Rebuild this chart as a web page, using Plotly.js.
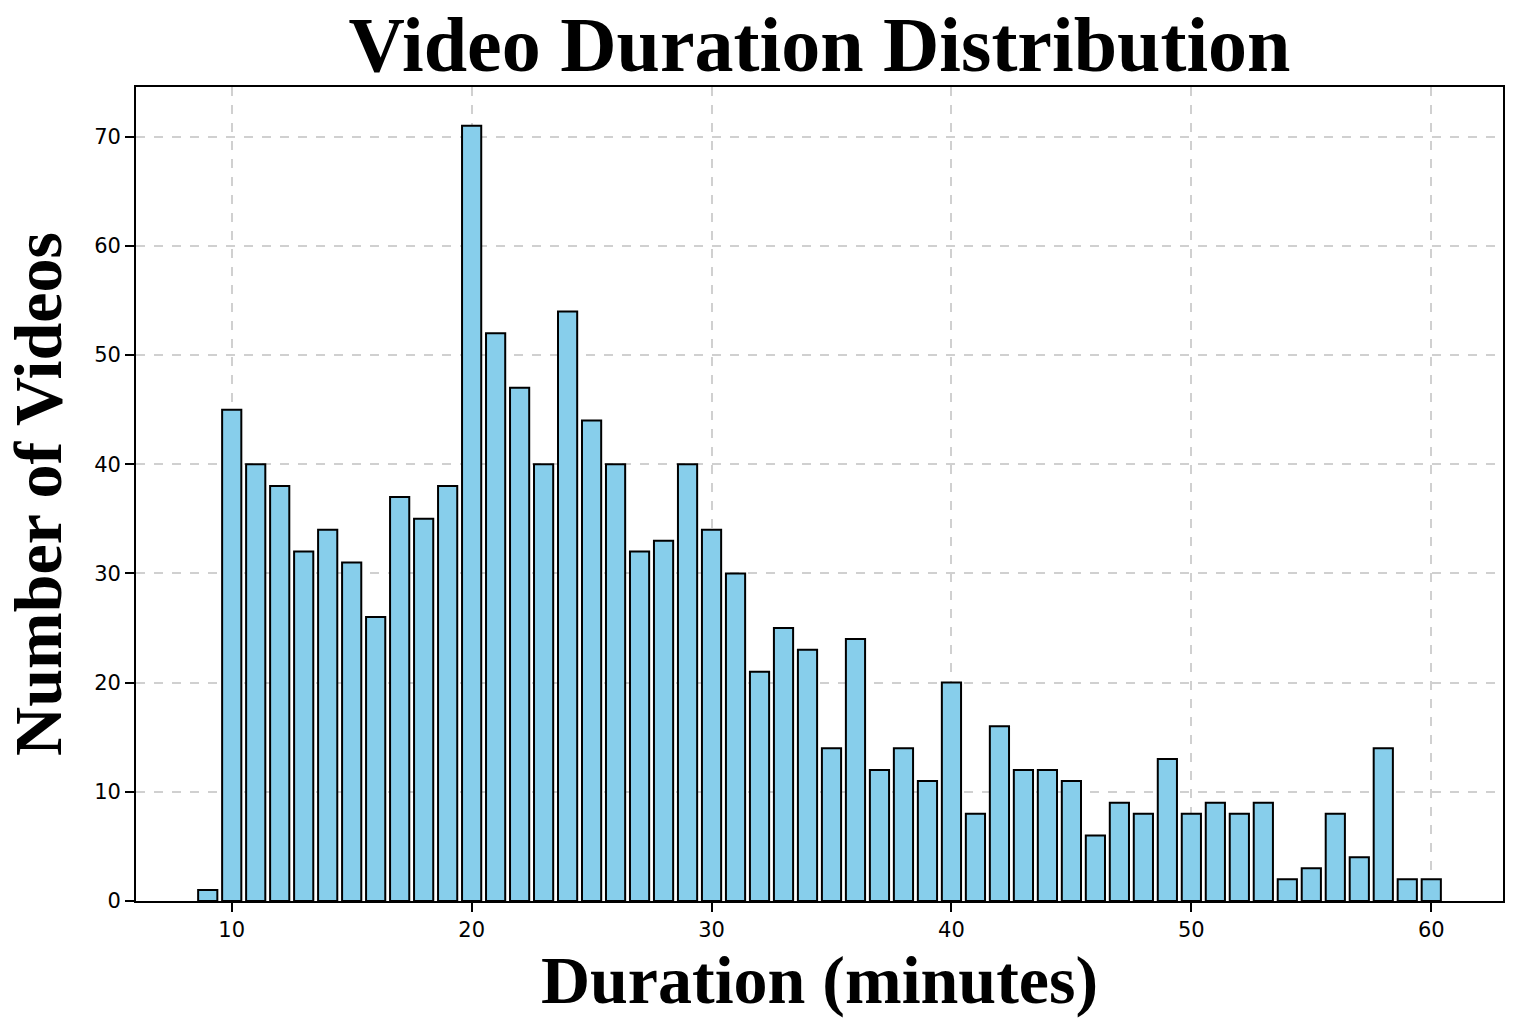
<!DOCTYPE html>
<html>
<head>
<meta charset="utf-8">
<script src="https://cdn.plot.ly/plotly-3.0.1.min.js"></script>
<style>
  html, body { margin: 0; padding: 0; background: #fff; }
  #chart { width: 1521px; height: 1030px; }
</style>
</head>
<body>
<div id="chart"></div>
<script>
// duration in minutes and how many videos have it
var durations = [9, 10, 11, 12, 13, 14, 15, 16, 17, 18, 19, 20, 21, 22, 23, 24, 25, 26, 27, 28,
  29, 30, 31, 32, 33, 34, 35, 36, 37, 38, 39, 40, 41, 42, 43, 44, 45, 46, 47, 48,
  49, 50, 51, 52, 53, 54, 55, 56, 57, 58, 59, 60]
var counts = [1, 45, 40, 38, 32, 34, 31, 26, 37, 35, 38, 71, 52, 47, 40, 54, 44, 40, 32, 33,
  40, 34, 30, 21, 25, 23, 14, 24, 12, 14, 11, 20, 8, 16, 12, 12, 11, 6, 9, 8,
  13, 8, 9, 8, 9, 2, 3, 8, 4, 14, 2, 2]
var xTicks = [10, 20, 30, 40, 50, 60]
var yTicks = [0, 10, 20, 30, 40, 50, 60, 70]

var serif = '"Liberation Serif", "Times New Roman", serif'
var sans = '"DejaVu Sans", sans-serif'

var trace = {
  x: durations,
  y: counts,
  type: 'bar',
  width: 0.8,
  marker: {
    color: '#87CEEB',
    line: { color: '#000', width: 2 }
  }
}

var axisCommon = {
  showline: true,
  mirror: true,
  linecolor: '#000',
  linewidth: 1.8,
  ticks: 'outside',
  ticklen: 9,
  tickwidth: 1.8,
  tickcolor: '#000',
  showgrid: true,
  gridcolor: '#d0d0d0',
  griddash: 'dash',
  gridwidth: 1.5,
  zeroline: false,
  tickfont: { family: sans, size: 21, color: '#000' }
}

var layout = {
  width: 1521,
  height: 1030,
  margin: { t: 87, r: 18, b: 129, l: 136 },
  paper_bgcolor: '#fff',
  plot_bgcolor: '#fff',
  showlegend: false,
  title: {
    text: '<b>Video Duration Distribution</b>',
    font: { family: serif, size: 78, color: '#000' },
    xref: 'paper',
    x: 0.5,
    xanchor: 'center',
    y: 0.958,
    yanchor: 'middle'
  },
  xaxis: Object.assign({}, axisCommon, {
    range: [6.01, 62.99],
    tickvals: xTicks,
    title: {
      text: '<b>Duration (minutes)</b>',
      font: { family: serif, size: 68, color: '#000' },
      standoff: 5
    }
  }),
  yaxis: Object.assign({}, axisCommon, {
    range: [0, 74.55],
    tickvals: yTicks,
    title: {
      text: '<b>Number of Videos</b>',
      font: { family: serif, size: 68, color: '#000' },
      standoff: 12
    }
  })
}

Plotly.newPlot('chart', [trace], layout, { displayModeBar: false, responsive: false })
</script>
</body>
</html>
